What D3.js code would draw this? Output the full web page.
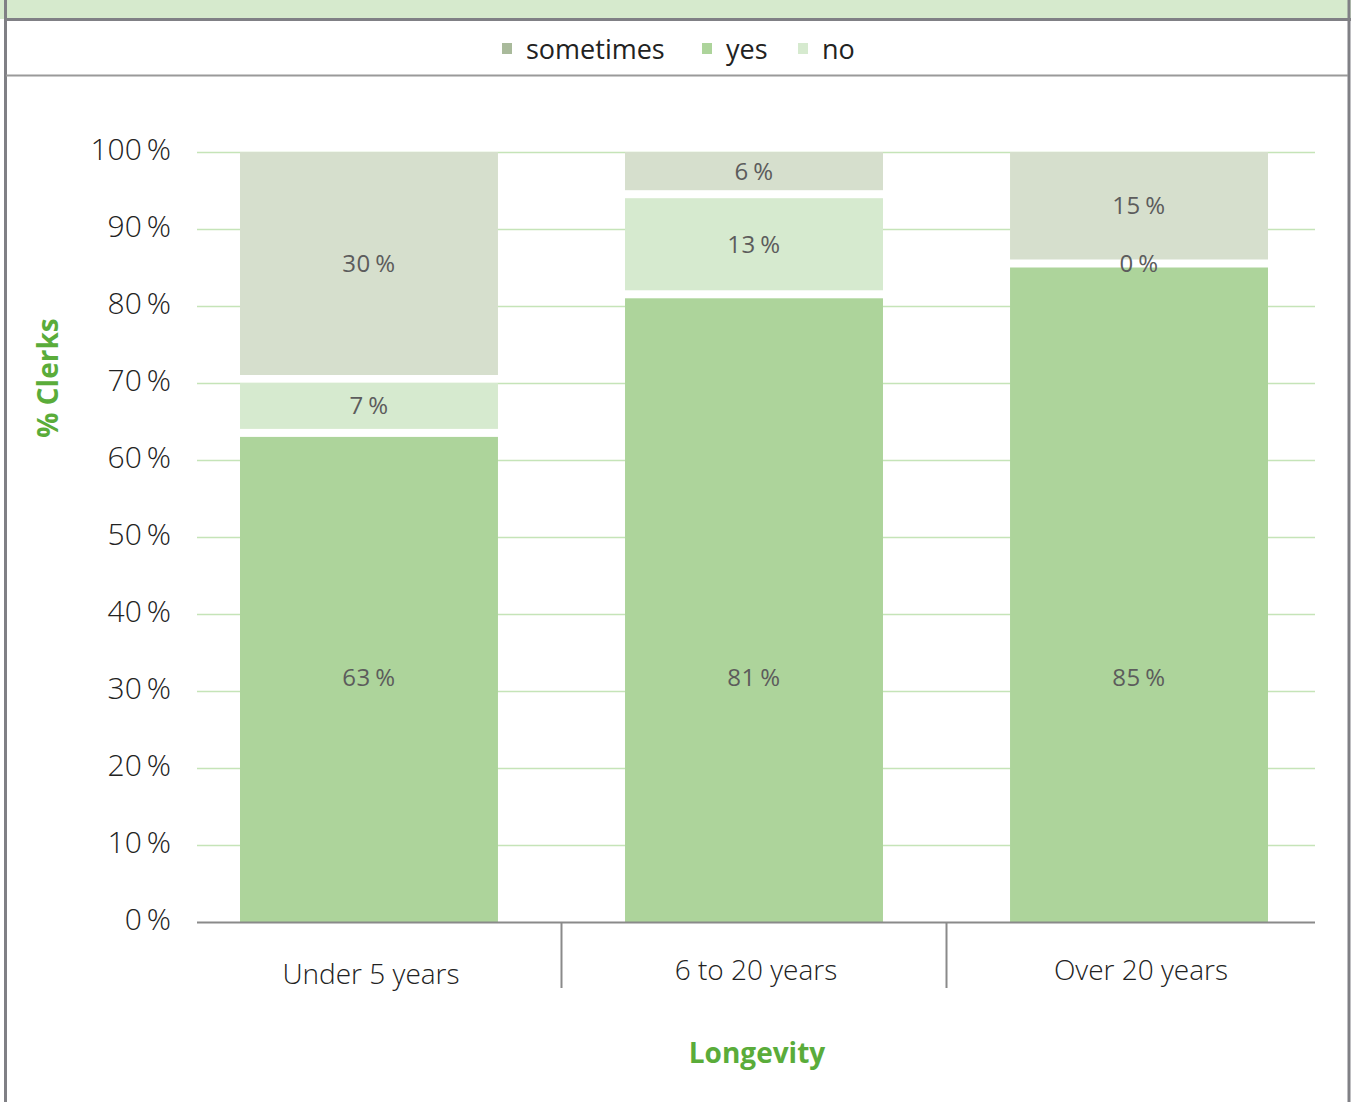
<!DOCTYPE html>
<html>
<head>
<meta charset="utf-8">
<script src="https://cdn.jsdelivr.net/npm/d3@7"></script>
<style>
  html, body { margin: 0; padding: 0; background: #fff; }
  svg { display: block; font-family: "Open Sans", "Noto Sans", sans-serif; }
</style>
</head>
<body>
<svg id="chart" width="1351" height="1102"></svg>
<script>
// Share of clerks by longevity band, stacked yes / no / sometimes
const categories = ["Under 5 years", "6 to 20 years", "Over 20 years"];
const seriesNames = ["yes", "no", "sometimes"];
const yesValues = [63, 81, 85];
const noValues = [7, 13, 0];
const sometimesValues = [30, 6, 15];
const yTicks = [0, 10, 20, 30, 40, 50, 60, 70, 80, 90, 100];
const legendOrder = ["sometimes", "yes", "no"];

const barColors = { yes: "#add49b", no: "#d6eacf", sometimes: "#d6dfcd" };
const legendColors = { sometimes: "#a9ba9b", yes: "#add49b", no: "#d6eacf" };

const rows = categories.map((c, i) => ({
  category: c,
  yes: yesValues[i],
  no: noValues[i],
  sometimes: sometimesValues[i]
}));

const svg = d3.select("#chart");
const W = 1351, H = 1102;

// Frame: tinted header strip, borders and legend divider
svg.append("rect").attr("x", 0).attr("y", 0).attr("width", W).attr("height", 19).attr("fill", "#d6eacd");
svg.append("line").attr("x1", 5).attr("x2", W).attr("y1", 19.5).attr("y2", 19.5)
  .attr("stroke", "#808085").attr("stroke-width", 3);
svg.append("line").attr("x1", 5.5).attr("x2", 5.5).attr("y1", 0).attr("y2", H)
  .attr("stroke", "#808085").attr("stroke-width", 3);
svg.append("line").attr("x1", 1349).attr("x2", 1349).attr("y1", 0).attr("y2", H)
  .attr("stroke", "#808085").attr("stroke-width", 3);
svg.append("line").attr("x1", 6).attr("x2", 1348).attr("y1", 75.5).attr("y2", 75.5)
  .attr("stroke", "#9a9a9a").attr("stroke-width", 2);

// Scales
const plotLeft = 197, plotRight = 1315, plotTop = 152, plotBottom = 922;
const y = d3.scaleLinear().domain([0, 100]).range([plotBottom, plotTop]);
const x = d3.scaleBand().domain(categories).range([plotLeft, 1311])
  .paddingInner(0.33).paddingOuter(0.1117);

// Gridlines
svg.append("g").selectAll("line").data(yTicks.filter(t => t > 0)).join("line")
  .attr("x1", plotLeft).attr("x2", plotRight)
  .attr("y1", d => y(d) + 0.5).attr("y2", d => y(d) + 0.5)
  .attr("stroke", "#c5e4b8").attr("stroke-width", 1.5);

// Y axis tick labels
const yAxis = d3.axisLeft(y).tickValues(yTicks).tickSize(0).tickPadding(0)
  .tickFormat(d => d + "\u2009%");
const yg = svg.append("g").attr("transform", `translate(171,-2)`).call(yAxis);
yg.select(".domain").remove();
yg.selectAll("text")
  .attr("font-family", "'Open Sans', sans-serif")
  .attr("font-size", 30).attr("font-weight", 300).attr("fill", "#222");

// Stacked bars
const stack = d3.stack().keys(seriesNames);
const stacked = stack(rows);
const gap = 8;
const minYes = d3.min(yesValues);

const segs = [];
stacked.forEach((layer, li) => {
  layer.forEach((d) => {
    const key = layer.key;
    const v = d.data[key];
    const top = y(d[1]);
    const bottom = li === 0 ? y(d[0]) : y(d[0]) - gap;
    segs.push({ key, v, top, bottom, cat: d.data.category, li });
  });
});

const barG = svg.append("g");
barG.selectAll("rect").data(segs.filter(s => s.bottom > s.top)).join("rect")
  .attr("x", d => x(d.cat))
  .attr("width", x.bandwidth())
  .attr("y", d => d.top)
  .attr("height", d => d.bottom - d.top)
  .attr("fill", d => barColors[d.key]);

// Baseline axis and category dividers
svg.append("line").attr("x1", plotLeft).attr("x2", plotRight)
  .attr("y1", plotBottom + 0.5).attr("y2", plotBottom + 0.5)
  .attr("stroke", "#8a8a8a").attr("stroke-width", 2);
const step = x.step();
svg.append("g").selectAll("line").data(categories.slice(1)).join("line")
  .attr("x1", d => x(d) - (step - x.bandwidth()) / 2)
  .attr("x2", d => x(d) - (step - x.bandwidth()) / 2)
  .attr("y1", plotBottom).attr("y2", 988)
  .attr("stroke", "#8a8a8a").attr("stroke-width", 2);

// Value labels
svg.append("g").selectAll("text").data(segs).join("text")
  .attr("x", d => x(d.cat) + x.bandwidth() / 2)
  .attr("y", d => {
    if (d.li === 0) return y(minYes / 2) - 2;
    if (d.bottom <= d.top) return d.top - gap / 2;
    return (d.top + d.bottom) / 2;
  })
  .attr("dy", "0.35em")
  .attr("text-anchor", "middle")
  .attr("font-size", 24).attr("font-weight", 400)
  .attr("letter-spacing", 0.5)
  .attr("fill", "#5c5c5c")
  .text(d => d.v + "\u2009%");

// Category labels
svg.append("g").selectAll("text").data(categories).join("text")
  .attr("x", d => x(d) + x.bandwidth() / 2 + 2)
  .attr("y", (d, i) => i === 0 ? 984 : 980)
  .attr("text-anchor", "middle")
  .attr("font-size", 28).attr("font-weight", 300)
  .attr("fill", "#222")
  .text(d => d);

// Axis titles
svg.append("text")
  .attr("transform", "translate(58,378) rotate(-90)")
  .attr("text-anchor", "middle")
  .attr("font-size", 28).attr("font-weight", 700)
  .attr("fill", "#5aac3a")
  .text("% Clerks");
svg.append("text")
  .attr("x", 757).attr("y", 1063)
  .attr("text-anchor", "middle")
  .attr("font-size", 28).attr("font-weight", 700)
  .attr("fill", "#5aac3a")
  .text("Longevity");

// Legend
const legendX = { sometimes: 502, yes: 702, no: 798 };
const lg = svg.append("g").selectAll("g").data(legendOrder).join("g")
  .attr("transform", d => `translate(${legendX[d]},0)`);
lg.append("rect").attr("x", 0).attr("y", 43).attr("width", 10).attr("height", 11)
  .attr("fill", d => legendColors[d]);
lg.append("text").attr("x", 24).attr("y", 59)
  .attr("font-size", 27).attr("font-weight", 400).attr("fill", "#222")
  .text(d => d);
</script>
</body>
</html>
